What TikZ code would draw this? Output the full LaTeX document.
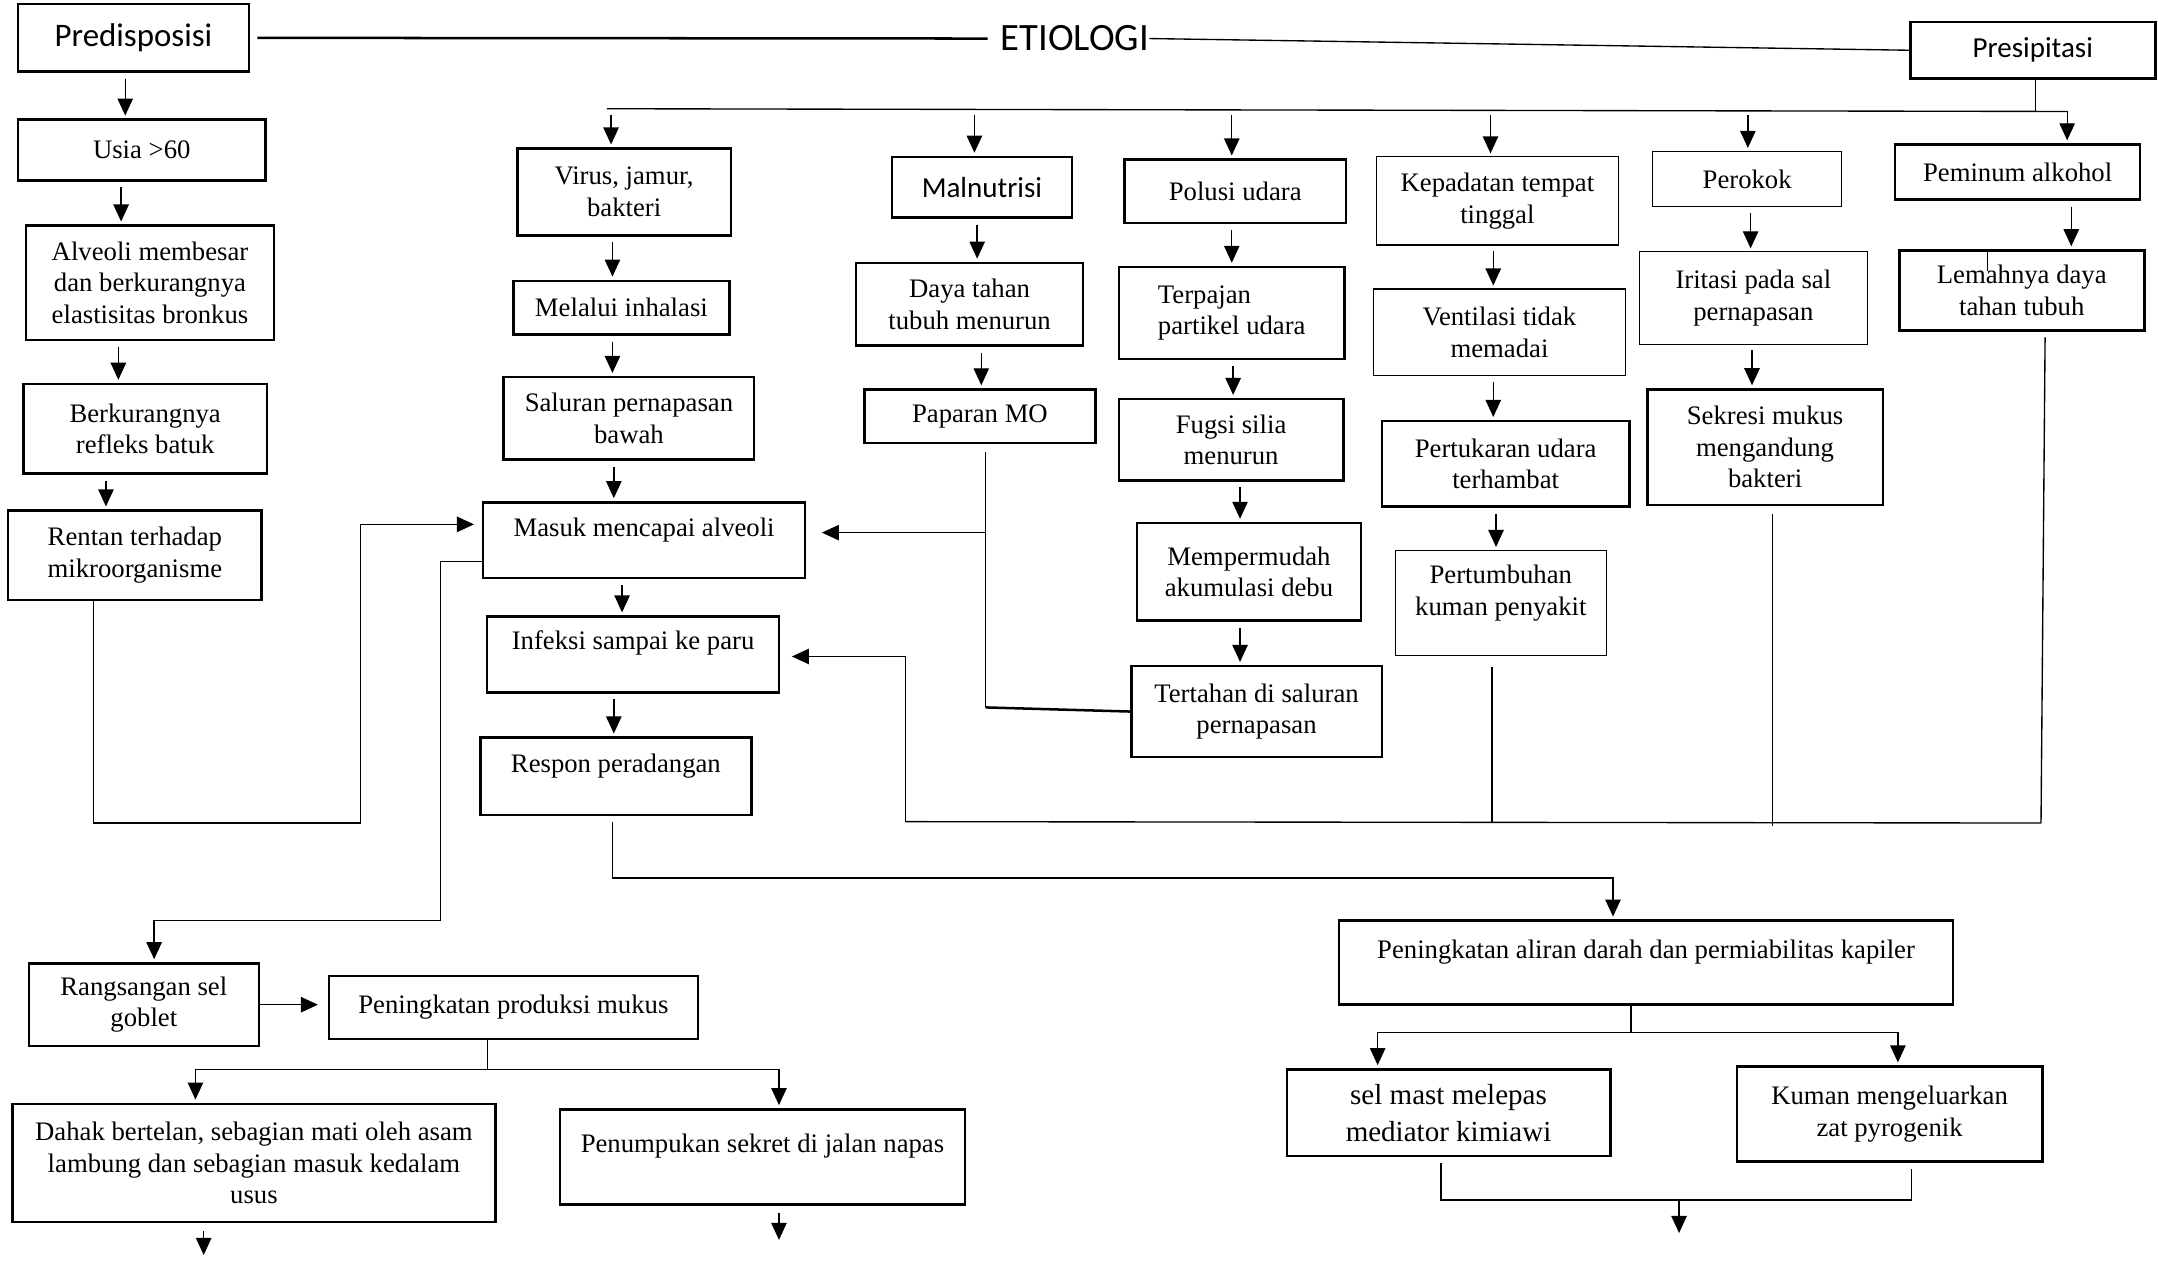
\documentclass[tikz,border=0pt]{standalone}
\usepackage{fontspec}
\setmainfont{Liberation Serif}
\newfontfamily\calibri{Carlito}
\usetikzlibrary{arrows.meta}

\begin{document}
\begin{tikzpicture}[x=0.025cm, y=-0.025cm,
    bx/.style={draw, line width=1.3pt, align=center, inner sep=2pt,
               font=\fontsize{13.8}{16.3}\selectfont},
    tn/.style={bx, line width=0.6pt},
    sfbig/.style={font=\calibri\fontsize{17}{20}\selectfont},
    sfmid/.style={font=\calibri\fontsize{15}{18}\selectfont},
    ln/.style={line width=0.7pt},
    ar/.style={ln, -{Stealth[length=3.1mm, width=2.8mm, inset=0pt]}, shorten >=1.5pt},
    ch/.style={ar, shorten <=3pt}
  ]
  \useasboundingbox (0,0) rectangle (1568,916);

  \node[bx, minimum width=4.2cm, minimum height=1.225cm, sfbig] (pred) at (97,27.5) {Predisposisi};
  \node[font=\calibri\fontsize{20}{24}\selectfont, inner sep=0pt] (etio) at (781,28) {ETIOLOGI};
  \node[bx, minimum width=4.45cm, minimum height=1.025cm, sfmid] (presip) at (1477,36.5) {Presipitasi};
  \draw[line width=1.3pt] (pred.east -| 187,0) -- ([xshift=-0.23cm]etio.west);
  \draw[ln] (etio.east) -- (presip.west);

  \node[bx, minimum width=4.5cm, minimum height=1.1cm] (usia) at (103,109) {Usia >60};
  \node[bx, minimum width=4.5cm, minimum height=2.075cm] (alveoli) at (109,205.5) {Alveoli membesar\\dan berkurangnya\\elastisitas bronkus};
  \node[bx, minimum width=4.425cm, minimum height=1.625cm] (berkurang) at (105.5,311.5) {Berkurangnya\\refleks batuk};
  \node[bx, minimum width=4.6cm, minimum height=1.625cm] (rentan) at (98,403.5) {Rentan terhadap\\mikroorganisme};

  \node[bx, minimum width=3.875cm, minimum height=1.575cm] (virus) at (453.5,139.5) {Virus, jamur,\\bakteri};
  \node[bx, minimum width=3.925cm, minimum height=0.975cm] (inhalasi) at (451.5,223.5) {Melalui inhalasi};
  \node[bx, minimum width=4.55cm, minimum height=1.5cm] (saluran) at (457,304) {Saluran pernapasan\\bawah};
  \node[bx, minimum width=5.85cm, minimum height=1.375cm, text depth=13.6pt] (alveolus) at (468,392.5) {Masuk mencapai alveoli};
  \node[bx, minimum width=5.3cm, minimum height=1.375cm, text depth=15pt] (infeksi) at (460,475.5) {Infeksi sampai ke paru};
  \node[bx, minimum width=4.925cm, minimum height=1.4cm, text depth=13pt] (respon) at (447.5,564) {Respon peradangan};

  \node[bx, minimum width=3.275cm, minimum height=1.1cm, sfmid] (malnutrisi) at (713.5,136) {Malnutrisi};
  \node[bx, minimum width=4.125cm, minimum height=1.5cm] (dayatahan) at (704.5,221) {Daya tahan\\tubuh menurun};
  \node[bx, minimum width=4.2cm, minimum height=0.975cm] (paparan) at (712,302.5) {Paparan MO};

  \node[bx, minimum width=4.025cm, minimum height=1.15cm] (polusi) at (897.5,139) {Polusi udara};
  \node[bx, minimum width=4.1cm, minimum height=1.675cm, align=left] (terpajan) at (895,227.5) {Terpajan\\partikel udara};
  \node[bx, minimum width=4.075cm, minimum height=1.475cm] (silia) at (894.5,319.5) {Fugsi silia\\menurun};
  \node[bx, minimum width=4.075cm, minimum height=1.775cm] (debu) at (907.5,415.5) {Mempermudah\\akumulasi debu};
  \node[bx, minimum width=4.55cm, minimum height=1.65cm] (tertahan) at (913,517) {Tertahan di saluran\\pernapasan};

  \node[tn, minimum width=4.4cm, minimum height=1.6cm] (kepadatan) at (1088,146) {Kepadatan tempat\\tinggal};
  \node[tn, minimum width=4.575cm, minimum height=1.575cm] (ventilasi) at (1089.5,241.5) {Ventilasi tidak\\memadai};
  \node[bx, minimum width=4.5cm, minimum height=1.55cm] (pertukaran) at (1094,337) {Pertukaran udara\\terhambat};
  \node[tn, minimum width=3.825cm, minimum height=1.9cm, text depth=13pt] (kuman) at (1090.5,438) {Pertumbuhan\\kuman penyakit};

  \node[tn, minimum width=3.425cm, minimum height=1cm] (perokok) at (1269.5,130) {Perokok};
  \node[tn, minimum width=4.15cm, minimum height=1.675cm] (iritasi) at (1274,216.5) {Iritasi pada sal\\pernapasan};
  \node[bx, minimum width=4.275cm, minimum height=2.1cm] (sekresi) at (1282.5,325) {Sekresi mukus\\mengandung\\bakteri};

  \node[bx, minimum width=4.45cm, minimum height=1cm] (alkohol) at (1466,125) {Peminum alkohol};
  \node[bx, minimum width=4.45cm, minimum height=1.45cm] (lemah) at (1469,211) {Lemahnya daya\\tahan tubuh};
  \draw[ln] (lemah.north -| 1444,0) -- ++(0,16);

  \node[bx, minimum width=11.15cm, minimum height=1.525cm, text depth=13.6pt] (aliran) at (1196,699.5) {Peningkatan aliran darah dan permiabilitas kapiler};
  \node[bx, minimum width=5.875cm, minimum height=1.575cm, font=\fontsize{15}{19}\selectfont] (mast) at (1052.5,808.5) {sel mast melepas\\mediator kimiawi};
  \node[bx, minimum width=5.55cm, minimum height=1.725cm] (pyrogen) at (1373,809.5) {Kuman mengeluarkan\\zat pyrogenik};

  \node[bx, minimum width=4.175cm, minimum height=1.5cm] (goblet) at (104.5,730) {Rangsangan sel\\goblet};
  \node[bx, minimum width=6.7cm, minimum height=1.15cm] (mukus) at (373,732) {Peningkatan produksi mukus};
  \node[bx, minimum width=8.775cm, minimum height=2.15cm] (dahak) at (184.5,845) {Dahak bertelan, sebagian mati oleh asam\\lambung dan sebagian masuk kedalam\\usus};
  \node[bx, minimum width=7.35cm, minimum height=1.725cm, text depth=13.6pt] (sekret) at (554,840.5) {Penumpukan sekret di jalan napas};

  \draw[ch] (pred.south -| 91,0) -- (usia.north -| 91,0);
  \draw[ch] (usia.south -| 88,0) -- (alveoli.north -| 88,0);
  \draw[ch] (alveoli.south -| 86,0) -- (berkurang.north -| 86,0);
  \draw[ch] (berkurang.south -| 77,0) -- (rentan.north -| 77,0);

  \coordinate (busL) at (441,79);
  \coordinate (busR) at (1502,81);
  \draw[ln] (busL) -- (busR);
  \draw[ln] (presip.south -| 1479,0) -- (busR -| 1479,0);
  \draw[ch] (busL -| 444,0) -- (virus.north -| 444,0);
  \draw[ch] (busL -| 708,0) -- (malnutrisi.north -| 708,0);
  \draw[ch] (busL -| 895,0) -- (polusi.north -| 895,0);
  \draw[ch] (busL -| 1083,0) -- (kepadatan.north -| 1083,0);
  \draw[ch] (busL -| 1270,0) -- (perokok.north -| 1270,0);
  \draw[ar] (busR) -- (alkohol.north -| busR);

  \draw[ch] (virus.south -| 445,0) -- (inhalasi.north -| 445,0);
  \draw[ch] (inhalasi.south -| 445,0) -- (saluran.north -| 445,0);
  \draw[ch] (saluran.south -| 446,0) -- (alveolus.north -| 446,0);
  \draw[ch] (alveolus.south -| 452,0) -- (infeksi.north -| 452,0);
  \draw[ch] (infeksi.south -| 446,0) -- (respon.north -| 446,0);

  \draw[ch] (malnutrisi.south -| 710,0) -- (dayatahan.north -| 710,0);
  \draw[ch] (dayatahan.south -| 713,0) -- (paparan.north -| 713,0);

  \draw[ch] (polusi.south -| 895,0) -- (terpajan.north -| 895,0);
  \draw[ch] (terpajan.south -| 896,0) -- (silia.north -| 896,0);
  \draw[ch] (silia.south -| 901,0) -- (debu.north -| 901,0);
  \draw[ch] (debu.south -| 901,0) -- (tertahan.north -| 901,0);

  \draw[ch] (kepadatan.south -| 1085,0) -- (ventilasi.north -| 1085,0);
  \draw[ch] (ventilasi.south -| 1085,0) -- (pertukaran.north -| 1085,0);
  \draw[ch] (pertukaran.south -| 1087,0) -- (kuman.north -| 1087,0);

  \draw[ch] (perokok.south -| 1272,0) -- (iritasi.north -| 1272,0);
  \draw[ch] (iritasi.south -| 1273,0) -- (sekresi.north -| 1273,0);

  \draw[ch] (alkohol.south -| 1505,0) -- (lemah.north -| 1505,0);

  \coordinate (rb) at (262,598);
  \draw[ar, shorten >=4pt] (rentan.south -| 68,0) |- (rb) |- (alveolus.west |- 0,381);

  \coordinate (gb) at (320,669);
  \draw[ar] (alveolus.west |- 0,408) -| (gb) -| (goblet.north -| 112,0);

  \coordinate (mo) at (716,514);
  \coordinate (mj) at (716,387);
  \draw[ln, shorten <=4pt] (paparan.south -| mo) -- (mo);
  \draw[line width=1.3pt] (mo) -- (tertahan.west);
  \draw[ar, shorten >=8pt] (mj) -- (alveolus.east |- mj);

  \coordinate (cb) at (658,597);
  \coordinate (cr) at (1483,598);
  \draw[ln] (cb) -- (cr);
  \draw[ln, shorten <=3pt] (lemah.south -| 1486,0) -- (cr);
  \draw[ln, shorten <=6pt] (kuman.south -| 1084,0) -- (cb -| 1084,0);
  \draw[ln, shorten <=4pt] (sekresi.south -| 1288,0) -- (1288,600);
  \draw[ar, shorten >=6pt] (cb) |- (infeksi.east |- 0,477);

  \coordinate (ra) at (1172,638);
  \draw[ar, shorten <=3pt] (respon.south -| 445,0) |- (ra) -- (aliran.north -| ra);

  \coordinate (ab) at (1185,750);
  \draw[ln] (aliran.south -| ab) -- (ab);
  \draw[ar] (ab) -| (mast.north -| 1001,0);
  \draw[ar] (ab) -| (pyrogen.north -| 1379,0);

  \coordinate (mk) at (1220,872);
  \coordinate (mkend) at (1220,898);
  \draw[ln, shorten <=3pt, shorten >=3pt] (mast.south -| 1047,0) |- (mk) -| (pyrogen.south -| 1389,0);
  \draw[ar] (mk) -- (mkend);

  \draw[ar, shorten >=5pt] (goblet.east) -- (mukus.west |- goblet.east);
  \coordinate (pb) at (354,777);
  \draw[ln] (mukus.south -| pb) -- (pb);
  \draw[ar] (pb) -| (dahak.north -| 142,0);
  \draw[ar] (pb) -| (sekret.north -| 566,0);
  \coordinate (dahakend) at (148,914);
  \coordinate (sekretend) at (566,903);
  \draw[ar, shorten <=4pt] (dahak.south -| dahakend) -- (dahakend);
  \draw[ar, shorten <=4pt] (sekret.south -| sekretend) -- (sekretend);
\end{tikzpicture}
\end{document}
